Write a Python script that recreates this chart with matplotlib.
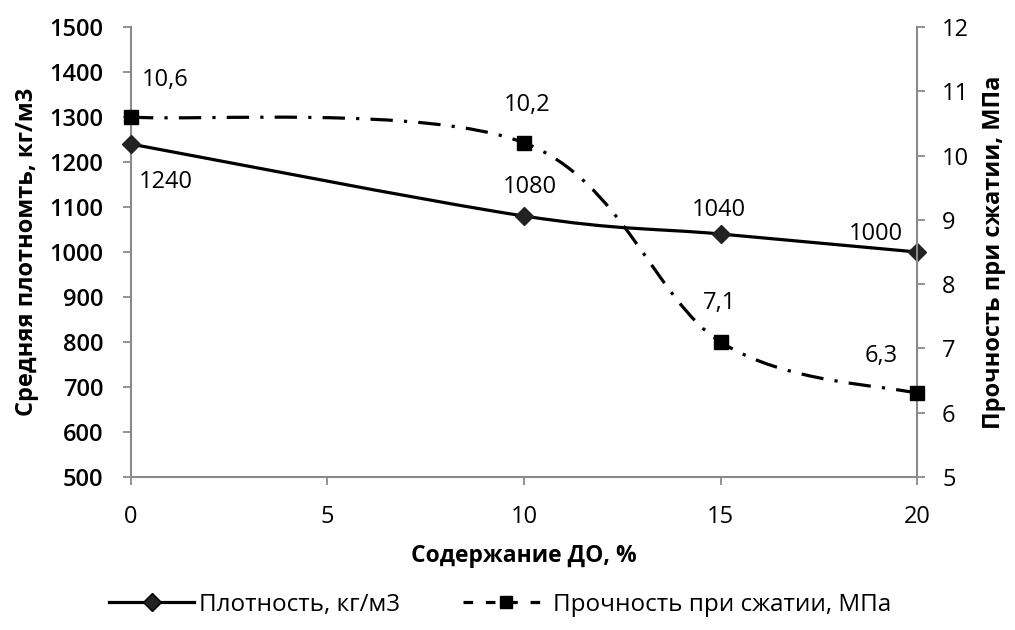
import matplotlib.pyplot as plt
from matplotlib.path import Path
from matplotlib.patches import PathPatch
from matplotlib.lines import Line2D

# содержание ДО, %
content = [0, 10, 15, 20]
# средняя плотность, кг/м3
density = [1240, 1080, 1040, 1000]
# прочность при сжатии, МПа
strength = [10.6, 10.2, 7.1, 6.3]
density_labels = ["1240", "1080", "1040", "1000"]
strength_labels = ["10,6", "10,2", "7,1", "6,3"]

plt.rcParams['font.family'] = ['Open Sans', 'DejaVu Sans']
axis_grey = '#8a8a8a'


def smooth_path(xs, ys):
    # сглаженная линия как в Excel: кубические кривые Безье через точки
    n = len(xs)
    verts = [(xs[0], ys[0])]
    codes = [Path.MOVETO]
    for i in range(n - 1):
        x0, y0 = xs[max(i - 1, 0)], ys[max(i - 1, 0)]
        x3, y3 = xs[min(i + 2, n - 1)], ys[min(i + 2, n - 1)]
        c1 = (xs[i] + (xs[i + 1] - x0) / 6, ys[i] + (ys[i + 1] - y0) / 6)
        c2 = (xs[i + 1] - (x3 - xs[i]) / 6, ys[i + 1] - (y3 - ys[i]) / 6)
        verts += [c1, c2, (xs[i + 1], ys[i + 1])]
        codes += [Path.CURVE4] * 3
    return Path(verts, codes)


fig = plt.figure(figsize=(10.15, 6.3), dpi=100)
ax = fig.add_axes([0.129, 0.243, 0.7745, 0.714])
ax2 = ax.twinx()

dash_style = (0, (7, 3.5, 1, 3.5))

ax.add_patch(PathPatch(smooth_path(content, density), facecolor='none',
                       edgecolor='black', lw=2.3, zorder=3))
ax.plot(content, density, linestyle='none', marker='D', ms=9,
        color='#222222', zorder=4, clip_on=False)

ax2.add_patch(PathPatch(smooth_path(content, strength), facecolor='none',
                        edgecolor='black', lw=2.3, linestyle=dash_style, zorder=3))
ax2.plot(content, strength, linestyle='none', marker='s', ms=10,
         color='black', zorder=4, clip_on=False)

# подписи значений
d_off = [(25, -27), (4, 21), (-1, 17), (-30, 13)]
s_off = [(25, 27), (2, 27), (-1, 28), (-26, 27)]
for x, y, t, o in zip(content, density, density_labels, d_off):
    ax.annotate(t, (x, y), xytext=o, textcoords='offset points',
                ha='center', va='center', fontsize=17)
for x, y, t, o in zip(content, strength, strength_labels, s_off):
    ax2.annotate(t, (x, y), xytext=o, textcoords='offset points',
                 ha='center', va='center', fontsize=17)

ax.set_xlim(0, 20)
ax.set_ylim(500, 1500)
ax.set_xticks([0, 5, 10, 15, 20])
ax.set_yticks(range(500, 1501, 100))
ax2.set_ylim(5, 12)
ax2.set_yticks(range(5, 13))

for a in (ax, ax2):
    a.spines['top'].set_visible(False)
    for s in ('left', 'right', 'bottom'):
        a.spines[s].set_color(axis_grey)
        a.spines[s].set_linewidth(1.5)
    a.tick_params(direction='out', length=6, width=1.3, color=axis_grey,
                  labelsize=17)
ax.spines['right'].set_visible(False)
ax2.spines['left'].set_visible(False)
ax2.spines['bottom'].set_visible(False)
ax.tick_params(axis='y', pad=14)
ax.tick_params(axis='x', pad=14)
ax2.tick_params(axis='y', pad=12)
for lab in ax.get_yticklabels():
    lab.set_fontweight('semibold')

ax.set_xlabel("Содержание ДО, %", fontsize=16.5, fontweight='bold',
              labelpad=11)
ax.set_ylabel("Средняя плотномть, кг/м3", fontsize=17, fontweight='bold',
              labelpad=7)
ax2.set_ylabel("Прочность при сжатии, МПа", fontsize=17, fontweight='bold',
               labelpad=9)

handles = [
    Line2D([], [], color='black', lw=2.3, marker='D', ms=9,
           markerfacecolor='#222222'),
    Line2D([], [], color='black', lw=2.3, linestyle=(0, (3, 4)),
           marker='s', ms=9),
]
fig.legend(handles, ["Плотность, кг/м3", "Прочность при сжатии, МПа"],
           loc='center', bbox_to_anchor=(0.493, 0.04), ncol=2, frameon=False,
           prop={'size': 17.5}, handlelength=3.5,
           columnspacing=2.6, handletextpad=0.2)

fig.savefig('out.png', dpi=100)
